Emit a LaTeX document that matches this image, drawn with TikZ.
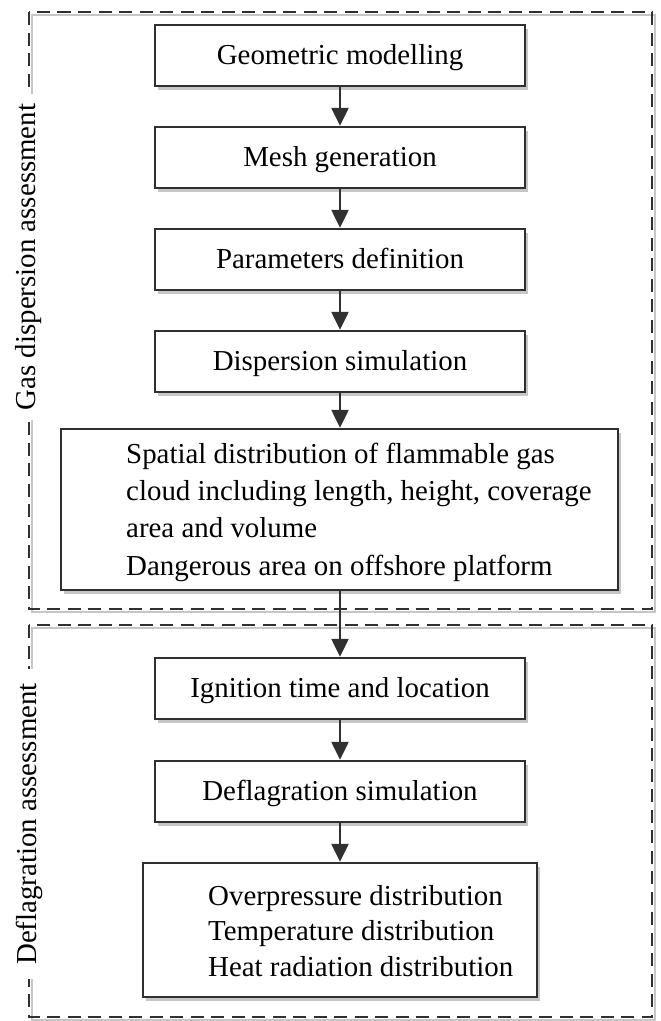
\documentclass[tikz,border=0pt]{standalone}
\usepackage{fontspec}
\setmainfont{Liberation Serif}
\usetikzlibrary{arrows.meta,shadows}
\definecolor{linec}{HTML}{303030}
\begin{document}
\begin{tikzpicture}[x=1pt,y=-1pt,
  font=\fontsize{28.9}{37.3}\selectfont,
  boxbase/.style={draw=linec, line width=2.4pt, fill=white, inner sep=0pt,
    drop shadow={shadow xshift=3pt, shadow yshift=-3.5pt, fill=gray, opacity=0.45}},
  box/.style={boxbase, minimum height=61pt, minimum width=370pt, text height=20pt, text depth=2pt},
  txt/.style={align=left, anchor=west, inner sep=0pt},
  arr/.style={draw=linec, line width=2.4pt, -{Triangle[width=17pt,length=18pt]}},
  region/.style={draw=linec, line width=2.4pt, dash pattern=on 13pt off 7.5pt},
  regshadow/.style={draw=gray!45, line width=2pt},
  grp/.style={rotate=90, fill=white, inner ysep=4pt}
]
\useasboundingbox (0,0) rectangle (661,1021);

% region frames
\draw[regshadow] (31.5,14.5) rectangle (654.5,611.5);
\draw[region] (29,12) rectangle (652,609);
\draw[regshadow] (31.5,627.5) rectangle (654.5,1019.5);
\draw[region] (29,625) rectangle (652,1017);

\node[grp, inner xsep=10pt] (lg) at (29,257) {Gas dispersion assessment};
\node[grp, inner xsep=14pt] (ld) at (29,824) {Deflagration assessment};

% boxes
\node[box] (g1) at (340,55.5) {Geometric modelling};
\node[box] (g2) at (340,157.5) {Mesh generation};
\node[box] (g3) at (340,259.5) {Parameters definition};
\node[box] (g4) at (340,361.5) {Dispersion simulation};
\node[boxbase, minimum width=557pt, minimum height=161pt] (g5) at (339.5,509.5) {};
\node[txt] (t5) at (126,512) {Spatial distribution of flammable gas\\cloud including length, height, coverage\\area and volume\\Dangerous area on offshore platform};

\node[box] (d1) at (340,688.5) {Ignition time and location};
\node[box] (d2) at (340,791.5) {Deflagration simulation};
\node[boxbase, minimum width=394pt, minimum height=134pt] (d3) at (340,930) {};
\node[txt, font=\fontsize{28.9}{35.5}\selectfont] (t8) at (208,931) {Overpressure distribution\\Temperature distribution\\Heat radiation distribution};

% connectors
\draw[arr] (g1) -- (g2);
\draw[arr] (g2) -- (g3);
\draw[arr] (g3) -- (g4);
\draw[arr] (g4.south) -- (g5.north -| g4.south);
\draw[arr] (g5.south -| d1.north) -- (d1.north);
\draw[arr] (d1) -- (d2);
\draw[arr] (d2) -- (d3);
\end{tikzpicture}
\end{document}
